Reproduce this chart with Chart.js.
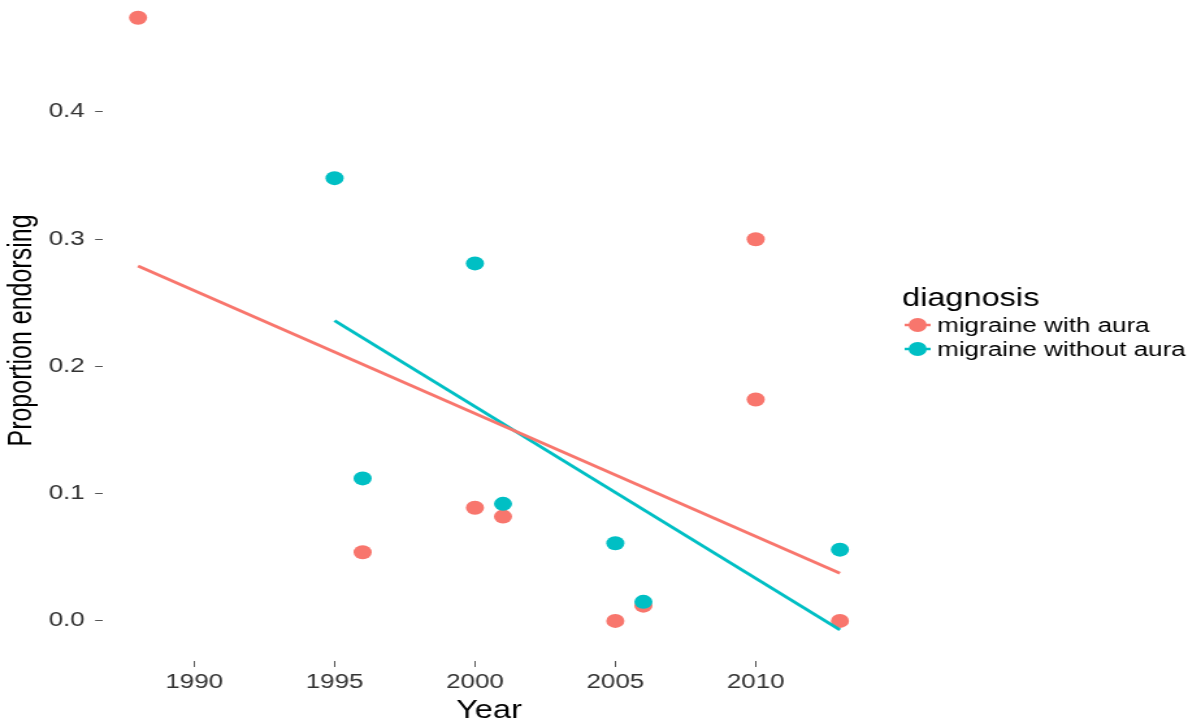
<!DOCTYPE html>
<html>
<head>
<meta charset="utf-8">
<script src="https://cdn.jsdelivr.net/npm/chart.js@4/dist/chart.umd.min.js"></script>
<style>
  html, body { margin: 0; padding: 0; background: #fff; overflow: hidden; }
  /* the reference is stretched sideways, so draw narrow and widen the box */
  #wrap { width: 924px; height: 727px; transform: scaleX(1.29978); transform-origin: 0 0; }
</style>
</head>
<body>
<div id="wrap"><canvas id="chart"></canvas></div>
<script>
// migraine with aura
const auraYears = [1988, 1996, 2000, 2001, 2005, 2006, 2010, 2010, 2013];
const auraValues = [0.474, 0.054, 0.089, 0.082, 0.000, 0.012, 0.300, 0.174, 0.000];
// migraine without aura
const noAuraYears = [1995, 1996, 2000, 2001, 2005, 2006, 2013];
const noAuraValues = [0.348, 0.112, 0.281, 0.092, 0.061, 0.015, 0.056];
// fitted lines at their ends
const auraFitYears = [1988, 2013];
const auraFitValues = [0.279, 0.0375];
const noAuraFitYears = [1995, 2013];
const noAuraFitValues = [0.236, -0.007];

const xTicks = [1990, 1995, 2000, 2005, 2010];
const yTicks = [0.0, 0.1, 0.2, 0.3, 0.4];
const groupLabels = ['migraine with aura', 'migraine without aura'];
const legendTitle = 'diagnosis';

const RED = '#F8766D';
const TEAL = '#00BFC4';
const FONT = '"Liberation Sans", Arial, Helvetica, sans-serif';

const toPoints = (xs, ys) => xs.map((x, i) => ({ x: x, y: ys[i] }));

// legend drawn the ggplot way: title, then a dot with a line through it
const ggLegend = {
    id: 'ggLegend',
    afterDraw(chart) {
        const ctx = chart.ctx;
        ctx.save();
        ctx.fillStyle = '#000';
        ctx.font = '25px ' + FONT;
        ctx.textAlign = 'left';
        ctx.textBaseline = 'alphabetic';
        ctx.fillText(legendTitle, 694, 306);

        const colors = [RED, TEAL];
        const rows = [325, 349];
        groupLabels.forEach((label, i) => {
            const y = rows[i];
            ctx.strokeStyle = colors[i];
            ctx.lineWidth = 2.5;
            ctx.beginPath();
            ctx.moveTo(696, y);
            ctx.lineTo(716, y);
            ctx.stroke();
            ctx.fillStyle = colors[i];
            ctx.beginPath();
            ctx.arc(706, y, 7, 0, Math.PI * 2);
            ctx.fill();
            ctx.fillStyle = '#000';
            ctx.font = '20px ' + FONT;
            ctx.textBaseline = 'middle';
            ctx.fillText(label, 721, y + 1);
        });
        ctx.restore();
    }
};

const chart = new Chart(document.getElementById('chart'), {
    type: 'scatter',
    data: {
        datasets: [{
            label: groupLabels[0] + ' fit',
            data: toPoints(auraFitYears, auraFitValues),
            showLine: true,
            borderColor: RED,
            borderWidth: 2.8,
            pointRadius: 0,
            order: 0
        }, {
            label: groupLabels[1] + ' fit',
            data: toPoints(noAuraFitYears, noAuraFitValues),
            showLine: true,
            borderColor: TEAL,
            borderWidth: 2.8,
            pointRadius: 0,
            order: 0
        }, {
            label: groupLabels[1],
            data: toPoints(noAuraYears, noAuraValues),
            backgroundColor: TEAL,
            borderWidth: 0,
            pointRadius: 7,
            clip: false,
            order: 1
        }, {
            label: groupLabels[0],
            data: toPoints(auraYears, auraValues),
            backgroundColor: RED,
            borderWidth: 0,
            pointRadius: 7,
            clip: false,
            order: 2
        }]
    },
    options: {
        responsive: true,
        maintainAspectRatio: false,
        animation: false,
        layout: {
            autoPadding: false,
            padding: { left: 0, right: 250.8, top: 0, bottom: 0 }
        },
        plugins: {
            legend: { display: false },
            tooltip: { enabled: false }
        },
        scales: {
            x: {
                type: 'linear',
                min: 1986.75,
                max: 2014.25,
                afterBuildTicks: scale => { scale.ticks = xTicks.map(v => ({ value: v })); },
                afterFit: scale => {
                    scale.height = 66;
                    scale.paddingLeft = 0;
                    scale.paddingRight = 0;
                },
                border: { display: false },
                grid: {
                    drawOnChartArea: false,
                    drawTicks: true,
                    tickLength: 6,
                    tickColor: '#555',
                    tickWidth: 1
                },
                ticks: {
                    padding: 3,
                    color: '#333',
                    font: { family: FONT, size: 20 },
                    maxRotation: 0,
                    callback: v => String(v)
                },
                title: {
                    display: true,
                    text: 'Year',
                    color: '#000',
                    font: { family: FONT, size: 25 },
                    padding: { top: 0, bottom: 1 }
                }
            },
            y: {
                min: -0.0315,
                max: 0.488,
                afterBuildTicks: scale => { scale.ticks = yTicks.map(v => ({ value: v })); },
                afterFit: scale => {
                    scale.width = 79.2;
                    scale.paddingTop = 0;
                    scale.paddingBottom = 0;
                },
                border: { display: false },
                grid: {
                    drawOnChartArea: false,
                    drawTicks: true,
                    tickLength: 6,
                    tickColor: '#555',
                    tickWidth: 1
                },
                ticks: {
                    padding: 8,
                    color: '#333',
                    font: { family: FONT, size: 20 },
                    callback: v => v.toFixed(1)
                },
                title: {
                    display: true,
                    text: 'Proportion endorsing',
                    color: '#000',
                    font: { family: FONT, size: 25 },
                    padding: { top: 2, bottom: 0 }
                }
            }
        }
    },
    plugins: [ggLegend]
});
</script>
</body>
</html>
